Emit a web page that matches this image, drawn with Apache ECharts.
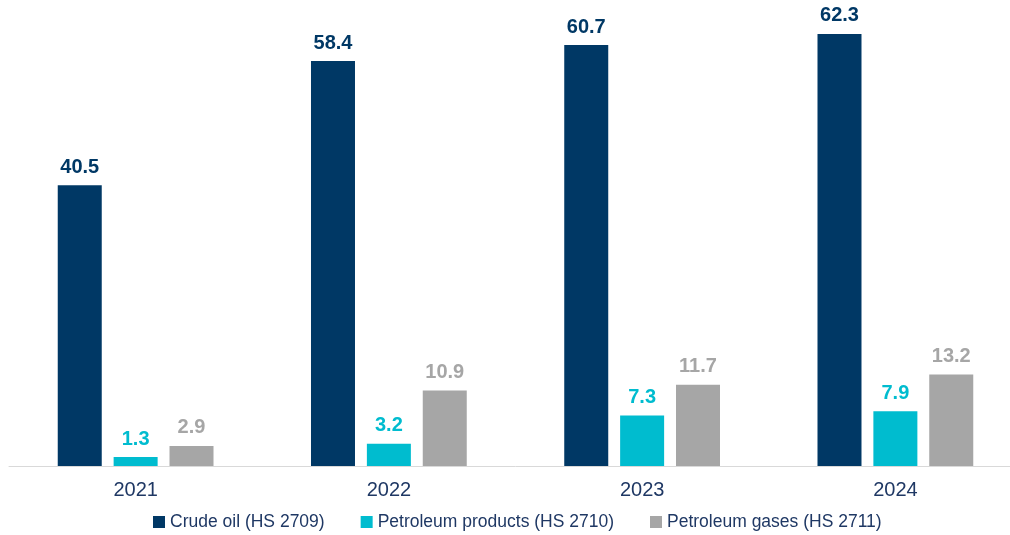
<!DOCTYPE html>
<html>
<head>
<meta charset="utf-8">
<script src="https://cdn.jsdelivr.net/npm/echarts@6/dist/echarts.min.js"></script>
<style>
  html, body { margin: 0; padding: 0; background: #ffffff; overflow: hidden; }
  #chart { width: 1022px; height: 535px; }
</style>
</head>
<body>
<div id="chart"></div>
<script>
// Years on the category axis
const years = ['2021', '2022', '2023', '2024'];

// Export values per product group
const crudeOil = [40.5, 58.4, 60.7, 62.3];
const petroleumProducts = [1.3, 3.2, 7.3, 7.9];
const petroleumGases = [2.9, 10.9, 11.7, 13.2];

const seriesNames = ['Crude oil (HS 2709)', 'Petroleum products (HS 2710)', 'Petroleum gases (HS 2711)'];
const seriesColors = ['#003865', '#00BCCF', '#A6A6A6'];

const font = 'Arial, "Liberation Sans", sans-serif';

function barSeries(name, data, color) {
  return {
    name: name,
    type: 'bar',
    data: data,
    barWidth: 44,
    barGap: '27%',
    itemStyle: { color: color },
    label: {
      show: true,
      position: 'top',
      distance: 8,
      color: color,
      fontFamily: font,
      fontWeight: 'bold',
      fontSize: 20,
      formatter: p => p.value.toFixed(1)
    }
  };
}

const chart = echarts.init(document.getElementById('chart'), null, { renderer: 'canvas' });
chart.setOption({
  animation: false,
  backgroundColor: '#ffffff',
  grid: { left: 9, top: 0, right: 0, height: 466, containLabel: false },
  legend: {
    bottom: -1,
    left: 148,
    itemWidth: 12,
    itemHeight: 12,
    itemGap: 36,
    icon: 'rect',
    textStyle: { fontFamily: font, fontSize: 17.5, color: '#1F3864' },
    data: seriesNames
  },
  xAxis: {
    type: 'category',
    data: years,
    axisLine: { lineStyle: { color: '#D9D9D9', width: 1 } },
    axisTick: { show: false },
    axisLabel: { fontFamily: font, fontSize: 20, color: '#1F3864', margin: 14 }
  },
  yAxis: {
    type: 'value',
    min: 0,
    max: 67.2,
    show: false,
    splitLine: { show: false }
  },
  series: [
    barSeries(seriesNames[0], crudeOil, seriesColors[0]),
    barSeries(seriesNames[1], petroleumProducts, seriesColors[1]),
    barSeries(seriesNames[2], petroleumGases, seriesColors[2])
  ]
});
</script>
</body>
</html>
